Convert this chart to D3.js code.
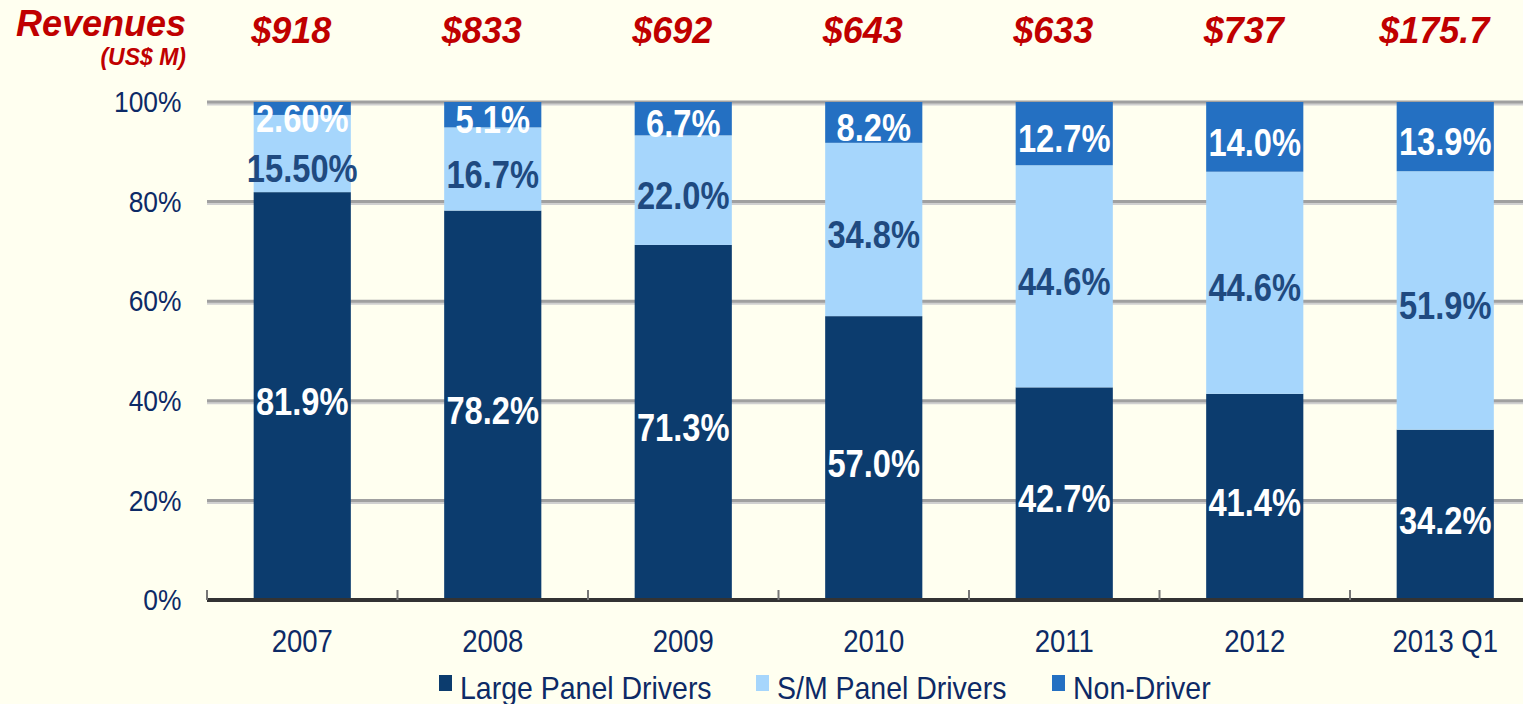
<!DOCTYPE html>
<html>
<head>
<meta charset="utf-8">
<script src="https://d3js.org/d3.v7.min.js"></script>
<style>
    html, body { margin: 0; padding: 0; background: #fffff0; }
    svg { display: block; }
    text { font-family: "Liberation Sans Narrow", "Arial Narrow", "Liberation Sans", Arial, sans-serif; }
    .rev { font-family: "Liberation Sans", Arial, sans-serif; font-weight: bold; font-style: italic; fill: #c00000; }
</style>
</head>
<body>
<div id="chart"></div>
<script>
const years = ['2007', '2008', '2009', '2010', '2011', '2012', '2013 Q1'];
const revenues = ['$918', '$833', '$692', '$643', '$633', '$737', '$175.7'];
const largePanel = [81.9, 78.2, 71.3, 57.0, 42.7, 41.4, 34.2];
const smPanel = [15.5, 16.7, 22.0, 34.8, 44.6, 44.6, 51.9];
const nonDriver = [2.6, 5.1, 6.7, 8.2, 12.7, 14.0, 13.9];
const labelsLarge = ['81.9%', '78.2%', '71.3%', '57.0%', '42.7%', '41.4%', '34.2%'];
const labelsSM = ['15.50%', '16.7%', '22.0%', '34.8%', '44.6%', '44.6%', '51.9%'];
const labelsNon = ['2.60%', '5.1%', '6.7%', '8.2%', '12.7%', '14.0%', '13.9%'];
const seriesNames = ['Large Panel Drivers', 'S/M Panel Drivers', 'Non-Driver'];
const yTicks = [0, 20, 40, 60, 80, 100];

const w = 1523, h = 704;
const narrow = 0.86; // squeeze regular sans to look like the condensed font
const colors = ['#0c3c6e', '#a6d6fc', '#2470c2'];
const labelColors = ['#ffffff', '#1f4a80', '#ffffff'];

const svg = d3.select('#chart').append('svg').attr('width', w).attr('height', h);

const x = d3.scaleBand().domain(years).range([207, 207 + 7 * 190.5]).paddingInner(0.49).paddingOuter(0.245);
const y = d3.scaleLinear().domain([0, 100]).range([600, 102]);

// narrow text helper
function ntext(parent, px, py, s) {
    return parent.append('g')
        .attr('transform', 'translate(' + px + ',' + py + ') scale(' + (s || narrow) + ',1)')
        .append('text');
}

// gridlines
svg.append('g').selectAll('line')
    .data(yTicks.filter(d => d > 0))
    .enter().append('line')
    .attr('x1', 207).attr('x2', w)
    .attr('y1', d => y(d) + 2).attr('y2', d => y(d) + 2)
    .attr('stroke', '#d0d0d0').attr('stroke-width', 3);
svg.append('g').selectAll('line')
    .data(yTicks.filter(d => d > 0))
    .enter().append('line')
    .attr('x1', 207).attr('x2', w)
    .attr('y1', d => y(d)).attr('y2', d => y(d))
    .attr('stroke', '#a0a0a0').attr('stroke-width', 3);

// y axis labels
const yAxis = d3.axisLeft(y).tickValues(yTicks).tickSize(0).tickPadding(29).tickFormat(d => d + '%');
svg.append('g')
    .attr('transform', 'translate(207,0)')
    .call(yAxis)
    .call(g => g.select('.domain').remove())
    .selectAll('text')
    .attr('transform', 'scale(0.88,1)')
    .style('font-size', '30px')
    .attr('fill', '#0d2a66');

// stacked bars
const rows = years.map((yr, i) => ({ year: yr, vals: [largePanel[i], smPanel[i], nonDriver[i]] }));
rows.forEach(r => {
    let acc = 0;
    r.segs = r.vals.map((v, k) => { const s = { k: k, y0: acc, y1: acc + v }; acc += v; return s; });
});

const bars = svg.append('g').selectAll('g').data(rows).enter().append('g');
bars.selectAll('rect')
    .data(d => d.segs.map(s => Object.assign({ year: d.year }, s)))
    .enter().append('rect')
    .attr('x', d => x(d.year))
    .attr('width', x.bandwidth())
    .attr('y', d => y(d.y1))
    .attr('height', d => y(d.y0) - y(d.y1))
    .attr('fill', d => colors[d.k]);

// x axis
svg.append('line')
    .attr('x1', 207).attr('x2', w)
    .attr('y1', 600).attr('y2', 600)
    .attr('stroke', '#333').attr('stroke-width', 4);
svg.append('g').selectAll('line')
    .data(d3.range(years.length + 1))
    .enter().append('line')
    .attr('x1', i => 207 + i * x.step()).attr('x2', i => 207 + i * x.step())
    .attr('y1', 590).attr('y2', 600)
    .attr('stroke', '#777').attr('stroke-width', 2);
years.forEach(d => {
    ntext(svg, x(d) + x.bandwidth() / 2, 652)
        .attr('text-anchor', 'middle')
        .style('font-size', '32px')
        .attr('fill', '#0d2a66')
        .text(d);
});

// data labels (top segment first, then pushed down if they collide)
rows.forEach((r, i) => {
    const texts = [labelsLarge[i], labelsSM[i], labelsNon[i]];
    const cy = r.segs.map(s => y((s.y0 + s.y1) / 2) + 5);
    const pos = [];
    pos[2] = Math.max(cy[2], 118);
    pos[1] = Math.max(cy[1], pos[2] + 50);
    pos[0] = cy[0];
    [0, 1, 2].forEach(k => {
        ntext(svg, x(r.year) + x.bandwidth() / 2, pos[k])
            .attr('dy', '0.36em')
            .attr('text-anchor', 'middle')
            .style('font-size', '38px')
            .style('font-weight', 'bold')
            .attr('fill', labelColors[k])
            .text(texts[k]);
    });
});

// revenues
svg.append('g').selectAll('text')
    .data(revenues)
    .enter().append('text')
    .attr('class', 'rev')
    .attr('x', (d, i) => x(years[i]) + x.bandwidth() / 2 - 11)
    .attr('y', 43)
    .attr('text-anchor', 'middle')
    .style('font-size', '36px')
    .text(d => d);
svg.append('text').attr('class', 'rev')
    .attr('x', 186).attr('y', 36).attr('text-anchor', 'end')
    .style('font-size', '36px').text('Revenues');
svg.append('text').attr('class', 'rev')
    .attr('x', 186).attr('y', 65).attr('text-anchor', 'end')
    .style('font-size', '23px').text('(US$ M)');

// legend
const legendX = [439, 756, 1052];
const legend = svg.append('g').selectAll('g')
    .data(seriesNames)
    .enter().append('g')
    .attr('transform', (d, i) => 'translate(' + legendX[i] + ',675)');
legend.append('rect').attr('width', 13).attr('height', 16).attr('fill', (d, i) => colors[i]);
legend.each(function (d) {
    ntext(d3.select(this), 21, 24, 0.89)
        .style('font-size', '32px')
        .attr('fill', '#0d2a66')
        .text(d);
});
</script>
</body>
</html>
